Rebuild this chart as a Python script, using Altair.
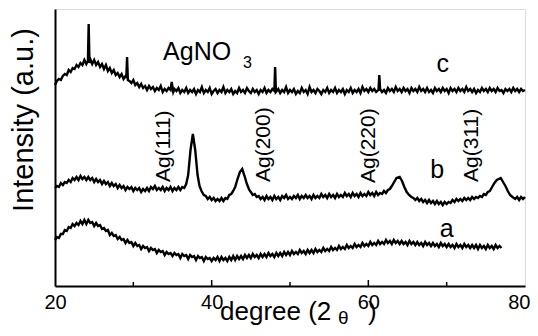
import altair as alt
import pandas as pd

FONT = "Liberation Sans, Arial, Helvetica, sans-serif"

# (2theta in degrees, intensity in arbitrary units)
c_points = [
    (20.00, 201), (20.25, 205), (20.50, 207), (20.75, 206), (21.00, 210), (21.25, 212),
    (21.50, 211), (21.75, 216), (22.00, 214), (22.25, 218), (22.50, 217), (22.75, 221),
    (23.00, 219), (23.25, 223), (23.50, 221), (23.75, 226), (24.00, 222), (24.20, 225),
    (24.30, 262), (24.40, 223), (24.50, 227), (24.75, 222), (25.00, 226), (25.25, 221),
    (25.50, 224), (25.75, 219), (26.00, 222), (26.25, 217), (26.50, 221), (26.75, 215),
    (27.00, 218), (27.25, 213), (27.50, 216), (27.75, 211), (28.00, 213), (28.25, 209),
    (28.50, 212), (28.75, 207), (29.00, 210), (29.10, 208), (29.20, 229), (29.30, 206),
    (29.50, 205), (29.75, 203), (30.00, 206), (30.25, 201), (30.50, 203), (30.75, 199),
    (31.00, 202), (31.25, 198), (31.50, 200), (31.75, 196), (32.00, 200), (32.25, 197),
    (32.50, 199), (32.75, 195), (33.00, 198), (33.25, 196), (33.50, 200), (33.75, 194),
    (34.00, 197), (34.25, 195), (34.50, 198), (34.75, 196), (34.90, 204), (35.10, 194),
    (35.25, 197), (35.50, 195), (35.75, 198), (36.00, 193), (36.25, 196), (36.50, 194),
    (36.75, 198), (37.00, 193), (37.25, 196), (37.50, 194), (37.75, 197), (38.00, 192),
    (38.25, 196), (38.50, 194), (38.75, 199), (39.00, 193), (39.25, 196), (39.50, 194),
    (39.75, 198), (40.00, 192), (40.25, 195), (40.50, 197), (40.75, 193), (41.00, 196),
    (41.25, 194), (41.50, 199), (41.75, 193), (42.00, 196), (42.25, 194), (42.50, 197),
    (42.75, 192), (43.00, 195), (43.25, 193), (43.50, 198), (43.75, 194), (44.00, 196),
    (44.25, 193), (44.50, 198), (44.75, 195), (45.00, 193), (45.25, 197), (45.50, 194),
    (45.75, 196), (46.00, 192), (46.25, 196), (46.50, 194), (46.75, 198), (47.00, 193),
    (47.25, 196), (47.50, 194), (47.75, 197), (48.00, 195), (48.10, 219), (48.20, 194),
    (48.50, 197), (48.75, 193), (49.00, 196), (49.25, 194), (49.50, 199), (49.75, 193),
    (50.00, 196), (50.25, 194), (50.50, 197), (50.75, 192), (51.00, 195), (51.25, 193),
    (51.50, 198), (51.75, 194), (52.00, 196), (52.25, 192), (52.50, 199), (52.75, 194),
    (53.00, 196), (53.25, 193), (53.50, 197), (53.75, 195), (54.00, 192), (54.25, 196),
    (54.50, 194), (54.75, 198), (55.00, 193), (55.25, 196), (55.50, 194), (55.75, 198),
    (56.00, 193), (56.25, 196), (56.50, 194), (56.75, 197), (57.00, 192), (57.25, 196),
    (57.50, 194), (57.75, 198), (58.00, 193), (58.25, 196), (58.50, 194), (58.75, 197),
    (59.00, 193), (59.25, 199), (59.50, 195), (59.75, 197), (60.00, 194), (60.25, 198),
    (60.50, 195), (60.75, 197), (61.00, 194), (61.30, 196), (61.40, 211), (61.50, 197),
    (61.75, 194), (62.00, 196), (62.25, 193), (62.50, 198), (62.75, 195), (63.00, 197),
    (63.25, 194), (63.50, 199), (63.75, 195), (64.00, 197), (64.25, 194), (64.50, 198),
    (64.75, 195), (65.00, 197), (65.25, 193), (65.50, 198), (65.75, 195), (66.00, 197),
    (66.25, 194), (66.50, 199), (66.75, 195), (67.00, 197), (67.25, 194), (67.50, 198),
    (67.75, 194), (68.00, 196), (68.25, 193), (68.50, 198), (68.75, 195), (69.00, 197),
    (69.25, 194), (69.50, 198), (69.75, 195), (70.00, 197), (70.25, 193), (70.50, 198),
    (70.75, 195), (71.00, 197), (71.25, 194), (71.50, 198), (71.75, 195), (72.00, 197),
    (72.25, 194), (72.50, 199), (72.75, 195), (73.00, 197), (73.25, 194), (73.50, 197),
    (73.75, 193), (74.00, 196), (74.25, 194), (74.50, 198), (74.75, 195), (75.00, 197),
    (75.25, 194), (75.50, 198), (75.75, 195), (76.00, 197), (76.25, 194), (76.50, 198),
    (76.75, 195), (77.00, 196), (77.25, 193), (77.50, 197), (77.75, 195), (78.00, 197),
    (78.25, 194), (78.50, 198), (78.75, 195), (79.00, 197), (79.25, 194), (79.50, 197),
    (79.75, 195), (80.00, 196),
]

b_points = [
    (20.00, 98), (20.25, 100), (20.50, 99), (20.75, 103), (21.00, 101), (21.25, 104),
    (21.50, 103), (21.75, 106), (22.00, 104), (22.25, 108), (22.50, 106), (22.75, 109),
    (23.00, 106), (23.25, 110), (23.50, 107), (23.75, 109), (24.00, 106), (24.25, 109),
    (24.50, 106), (24.75, 108), (25.00, 104), (25.25, 107), (25.50, 104), (25.75, 106),
    (26.00, 102), (26.25, 105), (26.50, 102), (26.75, 104), (27.00, 100), (27.25, 103),
    (27.50, 100), (27.75, 102), (28.00, 98), (28.25, 101), (28.50, 98), (28.75, 100),
    (29.00, 96), (29.25, 99), (29.50, 97), (29.75, 99), (30.00, 95), (30.25, 98),
    (30.50, 96), (30.75, 98), (31.00, 94), (31.25, 97), (31.50, 95), (31.75, 98),
    (32.00, 95), (32.25, 99), (32.50, 97), (32.75, 100), (33.00, 96), (33.25, 98),
    (33.50, 96), (33.75, 99), (34.00, 95), (34.25, 98), (34.50, 96), (34.75, 99),
    (35.00, 95), (35.25, 98), (35.50, 96), (35.75, 99), (36.00, 96), (36.25, 99),
    (36.50, 98), (36.75, 102), (37.00, 111), (37.30, 136), (37.60, 152), (37.90, 136),
    (38.20, 111), (38.45, 100), (38.70, 95), (39.00, 91), (39.25, 90), (39.50, 87),
    (39.75, 89), (40.00, 86), (40.25, 88), (40.50, 85), (40.75, 87), (41.00, 85),
    (41.25, 88), (41.50, 85), (41.75, 88), (42.00, 87), (42.25, 91), (42.50, 92),
    (42.75, 95), (43.00, 99), (43.30, 107), (43.60, 114), (43.90, 117), (44.20, 110),
    (44.50, 102), (44.80, 96), (45.00, 94), (45.25, 91), (45.50, 92), (45.75, 89),
    (46.00, 90), (46.25, 87), (46.50, 89), (46.75, 86), (47.00, 90), (47.25, 87),
    (47.50, 89), (47.75, 86), (48.00, 90), (48.25, 87), (48.50, 89), (48.75, 86),
    (49.00, 90), (49.25, 88), (49.50, 91), (49.75, 87), (50.00, 89), (50.25, 87),
    (50.50, 90), (50.75, 88), (51.00, 91), (51.25, 87), (51.50, 90), (51.75, 88),
    (52.00, 91), (52.25, 88), (52.50, 90), (52.75, 87), (53.00, 91), (53.25, 88),
    (53.50, 90), (53.75, 88), (54.00, 92), (54.25, 89), (54.50, 91), (54.75, 88),
    (55.00, 92), (55.25, 89), (55.50, 91), (55.75, 88), (56.00, 92), (56.25, 89),
    (56.50, 91), (56.75, 89), (57.00, 93), (57.25, 90), (57.50, 92), (57.75, 89),
    (58.00, 93), (58.25, 90), (58.50, 92), (58.75, 89), (59.00, 93), (59.25, 90),
    (59.50, 92), (59.75, 90), (60.00, 94), (60.25, 91), (60.50, 93), (60.75, 90),
    (61.00, 94), (61.25, 91), (61.50, 93), (61.75, 92), (62.00, 95), (62.25, 93),
    (62.50, 96), (62.75, 97), (63.00, 100), (63.30, 104), (63.60, 108), (64.00, 109),
    (64.30, 105), (64.60, 99), (64.90, 94), (65.20, 91), (65.50, 89), (65.75, 88),
    (66.00, 86), (66.25, 88), (66.50, 85), (66.75, 87), (67.00, 84), (67.25, 86),
    (67.50, 83), (67.75, 86), (68.00, 83), (68.25, 85), (68.50, 82), (68.75, 85),
    (69.00, 82), (69.25, 84), (69.50, 81), (69.75, 84), (70.00, 82), (70.25, 84),
    (70.50, 83), (70.75, 86), (71.00, 84), (71.25, 87), (71.50, 85), (71.75, 87),
    (72.00, 85), (72.25, 88), (72.50, 86), (72.75, 88), (73.00, 86), (73.25, 89),
    (73.50, 87), (73.75, 89), (74.00, 88), (74.25, 90), (74.50, 89), (74.75, 92),
    (75.00, 91), (75.25, 94), (75.50, 95), (75.80, 99), (76.10, 103), (76.40, 106),
    (76.90, 108), (77.20, 104), (77.50, 100), (77.80, 95), (78.10, 91), (78.40, 89),
    (78.75, 87), (79.00, 89), (79.25, 86), (79.50, 89), (79.75, 87), (80.00, 89),
]

a_points = [
    (20.00, 46), (20.25, 49), (20.50, 48), (20.75, 52), (21.00, 52), (21.25, 56),
    (21.50, 55), (21.75, 59), (22.00, 58), (22.25, 62), (22.50, 60), (22.75, 63),
    (23.00, 61), (23.25, 65), (23.50, 62), (23.75, 66), (24.00, 62), (24.25, 66),
    (24.50, 63), (24.75, 64), (25.00, 60), (25.25, 63), (25.50, 60), (25.75, 61),
    (26.00, 57), (26.25, 58), (26.50, 55), (26.75, 56), (27.00, 51), (27.25, 53),
    (27.50, 50), (27.75, 51), (28.00, 47), (28.25, 49), (28.50, 46), (28.75, 47),
    (29.00, 43), (29.25, 46), (29.50, 43), (29.75, 44), (30.00, 40), (30.25, 43),
    (30.50, 40), (30.75, 41), (31.00, 37), (31.25, 40), (31.50, 38), (31.75, 39),
    (32.00, 35), (32.25, 38), (32.50, 36), (32.75, 37), (33.00, 33), (33.25, 36),
    (33.50, 34), (33.75, 35), (34.00, 31), (34.25, 34), (34.50, 32), (34.75, 33),
    (35.00, 30), (35.25, 33), (35.50, 31), (35.75, 32), (36.00, 28), (36.25, 32),
    (36.50, 30), (36.75, 31), (37.00, 27), (37.25, 31), (37.50, 29), (37.75, 30),
    (38.00, 26), (38.25, 30), (38.50, 28), (38.75, 29), (39.00, 25), (39.25, 29),
    (39.50, 27), (39.75, 28), (40.00, 25), (40.25, 28), (40.50, 26), (40.75, 29),
    (41.00, 25), (41.25, 29), (41.50, 26), (41.75, 28), (42.00, 25), (42.25, 29),
    (42.50, 26), (42.75, 30), (43.00, 26), (43.25, 30), (43.50, 27), (43.75, 30),
    (44.00, 27), (44.25, 31), (44.50, 28), (44.75, 31), (45.00, 28), (45.25, 32),
    (45.50, 29), (45.75, 31), (46.00, 28), (46.25, 32), (46.50, 29), (46.75, 32),
    (47.00, 29), (47.25, 33), (47.50, 30), (47.75, 32), (48.00, 29), (48.25, 33),
    (48.50, 30), (48.75, 33), (49.00, 30), (49.25, 34), (49.50, 31), (49.75, 34),
    (50.00, 31), (50.25, 35), (50.50, 32), (50.75, 34), (51.00, 32), (51.25, 36),
    (51.50, 33), (51.75, 35), (52.00, 32), (52.25, 36), (52.50, 33), (52.75, 36),
    (53.00, 33), (53.25, 37), (53.50, 34), (53.75, 36), (54.00, 34), (54.25, 38),
    (54.50, 35), (54.75, 37), (55.00, 35), (55.25, 39), (55.50, 36), (55.75, 38),
    (56.00, 36), (56.25, 40), (56.50, 37), (56.75, 39), (57.00, 37), (57.25, 41),
    (57.50, 38), (57.75, 40), (58.00, 38), (58.25, 42), (58.50, 39), (58.75, 41),
    (59.00, 39), (59.25, 43), (59.50, 40), (59.75, 42), (60.00, 40), (60.25, 44),
    (60.50, 41), (60.75, 43), (61.00, 41), (61.25, 45), (61.50, 42), (61.75, 44),
    (62.00, 42), (62.25, 46), (62.50, 43), (62.75, 45), (63.00, 42), (63.25, 46),
    (63.50, 43), (63.75, 45), (64.00, 42), (64.25, 45), (64.50, 42), (64.75, 44),
    (65.00, 41), (65.25, 45), (65.50, 42), (65.75, 44), (66.00, 41), (66.25, 44),
    (66.50, 41), (66.75, 43), (67.00, 40), (67.25, 44), (67.50, 41), (67.75, 43),
    (68.00, 40), (68.25, 43), (68.50, 40), (68.75, 42), (69.00, 39), (69.25, 43),
    (69.50, 40), (69.75, 42), (70.00, 39), (70.25, 42), (70.50, 39), (70.75, 41),
    (71.00, 38), (71.25, 42), (71.50, 39), (71.75, 41), (72.00, 38), (72.25, 42),
    (72.50, 39), (72.75, 41), (73.00, 38), (73.25, 41), (73.50, 38), (73.75, 41),
    (74.00, 37), (74.25, 41), (74.50, 38), (74.75, 40), (75.00, 37), (75.25, 41),
    (75.50, 38), (75.75, 40), (76.00, 37), (76.25, 41), (76.50, 38), (76.75, 40),
    (77.00, 38),
]

tick_labels = [20, 40, 60, 80]
major_ticks = [40, 60]
minor_ticks = [30, 50, 70]

series_labels = ["a", "b", "c"]
series_label_deg = [70.0, 68.8, 69.5]
series_label_int = [49, 108, 214]

peak_labels = ["Ag(111)", "Ag(200)", "Ag(220)", "Ag(311)"]
peak_label_deg = [33.9, 46.7, 60.1, 73.2]
peak_label_int = [104, 104, 103, 104]

rows = []
for name, pts in (("a", a_points), ("b", b_points), ("c", c_points)):
    for d, v in pts:
        rows.append({"deg": d, "inten": v, "series": name})
df = pd.DataFrame(rows)

xs = alt.Scale(domain=[20, 80], nice=False, zero=False)
ys = alt.Scale(domain=[0, 277], nice=False, zero=False)

lines = alt.Chart(df).mark_line(color="black", strokeWidth=2.4, strokeJoin="miter").encode(
    x=alt.X("deg:Q", scale=xs, axis=alt.Axis(
        values=tick_labels, title=None, ticks=False, grid=False,
        labelFontSize=20, labelFont=FONT, labelColor="black", labelPadding=6,
        labelFlush=False,
        labelAlign=alt.condition("datum.value == 80", alt.value("right"), alt.value("center")),
        labelOffset=alt.condition("datum.value == 80", alt.value(5), alt.value(0)),
        domainColor="black", domainWidth=2)),
    y=alt.Y("inten:Q", scale=ys, axis=alt.Axis(
        labels=False, ticks=False, title=None, grid=False,
        domainColor="black", domainWidth=2)),
    detail="series:N",
)

maj = alt.Chart(pd.DataFrame({"deg": major_ticks})).mark_rule(color="black", strokeWidth=1.5).encode(
    x=alt.X("deg:Q", scale=xs), y=alt.value(277), y2=alt.value(271))
mnr = alt.Chart(pd.DataFrame({"deg": minor_ticks})).mark_rule(color="black", strokeWidth=1.5).encode(
    x=alt.X("deg:Q", scale=xs), y=alt.value(277), y2=alt.value(273))

slab = alt.Chart(pd.DataFrame({"deg": series_label_deg, "inten": series_label_int, "t": series_labels})).mark_text(
    font=FONT, fontSize=25, color="black", align="center", baseline="alphabetic").encode(
    x=alt.X("deg:Q", scale=xs), y=alt.Y("inten:Q", scale=ys), text="t:N")

plab = alt.Chart(pd.DataFrame({"deg": peak_label_deg, "inten": peak_label_int, "t": peak_labels})).mark_text(
    font=FONT, fontSize=21, color="black", align="left", baseline="middle", angle=270).encode(
    x=alt.X("deg:Q", scale=xs), y=alt.Y("inten:Q", scale=ys), text="t:N")

agno = alt.Chart(pd.DataFrame({"deg": [33.8], "inten": [226], "t": ["AgNO"]})).mark_text(
    font=FONT, fontSize=25, color="black", align="left", baseline="alphabetic").encode(
    x=alt.X("deg:Q", scale=xs), y=alt.Y("inten:Q", scale=ys), text="t:N")
agno3 = alt.Chart(pd.DataFrame({"deg": [44.0], "inten": [218], "t": ["3"]})).mark_text(
    font=FONT, fontSize=16, color="black", align="left", baseline="alphabetic").encode(
    x=alt.X("deg:Q", scale=xs), y=alt.Y("inten:Q", scale=ys), text="t:N")

xt1 = alt.Chart(pd.DataFrame({"t": ["degree (2"]})).mark_text(
    font=FONT, fontSize=26, color="black", align="left", baseline="alphabetic").encode(
    x=alt.value(165), y=alt.value(311), text="t:N")
xt2 = alt.Chart(pd.DataFrame({"t": ["θ"]})).mark_text(
    font=FONT, fontSize=19, color="black", align="left", baseline="alphabetic").encode(
    x=alt.value(283), y=alt.value(315), text="t:N")
xt3 = alt.Chart(pd.DataFrame({"t": [")"]})).mark_text(
    font=FONT, fontSize=26, color="black", align="left", baseline="alphabetic").encode(
    x=alt.value(313), y=alt.value(311), text="t:N")
yt = alt.Chart(pd.DataFrame({"t": ["Intensity (a.u.)"]})).mark_text(
    font=FONT, fontSize=29, color="black", align="center", baseline="middle", angle=270).encode(
    x=alt.value(-31), y=alt.value(111), text="t:N")

chart = alt.layer(lines, maj, mnr, slab, plab, agno, agno3, xt1, xt2, xt3, yt).properties(
    width=470, height=277,
    autosize=alt.AutoSizeParams(type="none"),
    padding={"left": 47, "top": 1, "right": 5, "bottom": 42},
).configure_view(stroke="black", strokeWidth=1.5).configure(background="white")

chart.save("out.html", embed_options={"renderer": "svg", "actions": False})
